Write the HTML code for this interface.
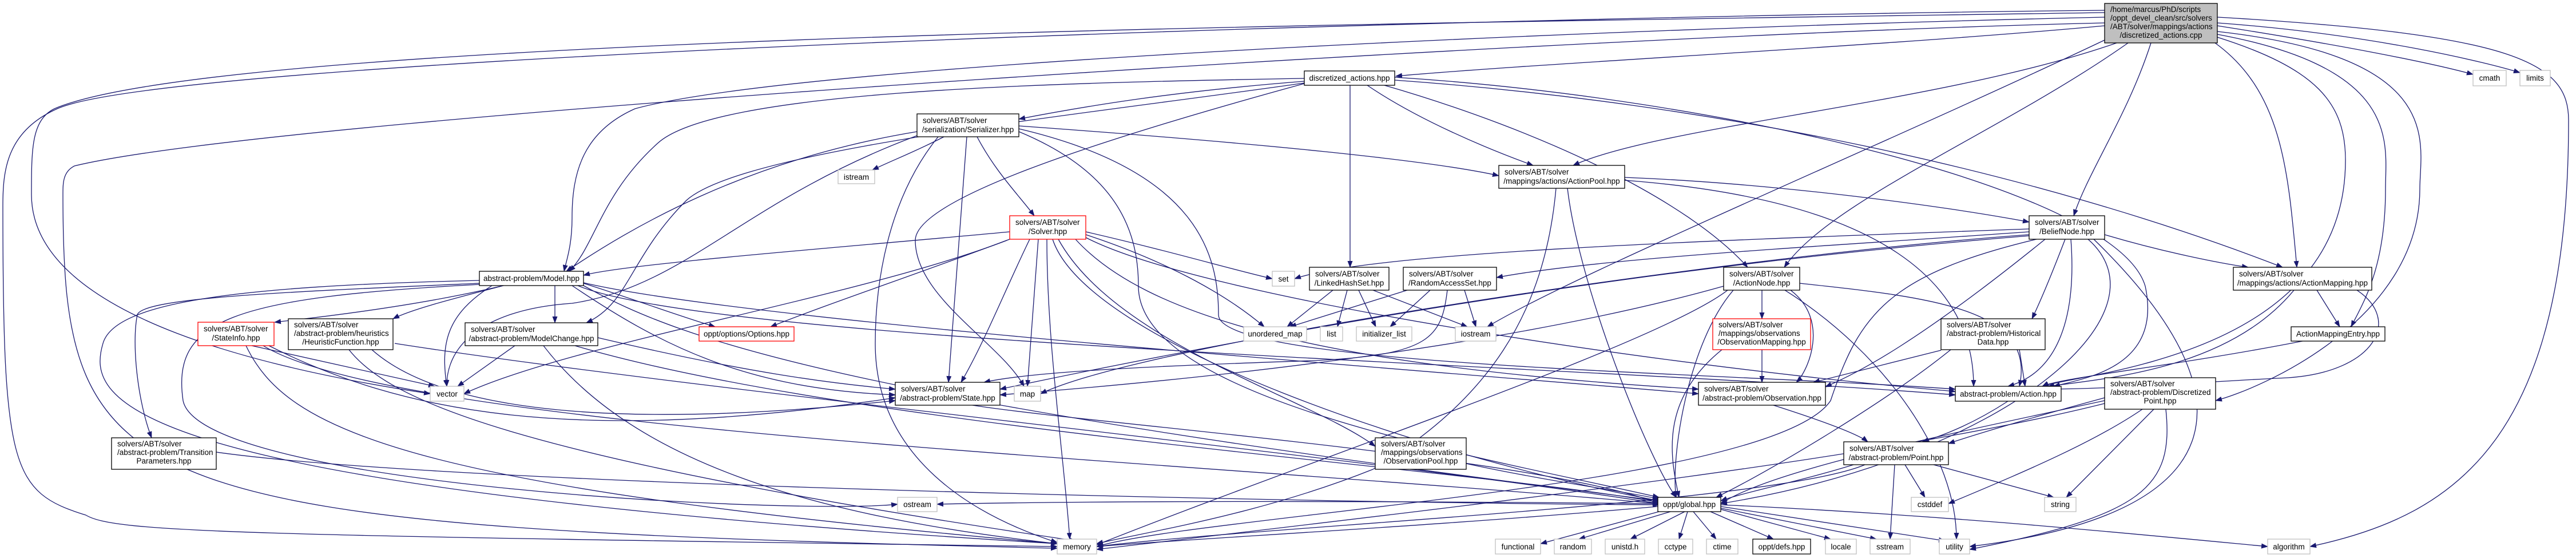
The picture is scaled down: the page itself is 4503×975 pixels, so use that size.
<!DOCTYPE html>
<html><head><meta charset="utf-8"><style>
html,body{margin:0;padding:0;background:#fff;}
svg{display:block;}
text{font-family:"Liberation Sans",sans-serif;font-size:13.5px;fill:#000;}
.e{fill:none;stroke:#191970;stroke-width:1.3;marker-end:url(#ah);}
.n{fill:#fff;stroke:#000;stroke-width:1.3;}
.g{fill:#fff;stroke:#bfbfbf;stroke-width:1.3;}
.r{fill:#fff;stroke:#ff0000;stroke-width:1.3;}
</style></head><body>
<svg width="4503" height="975" viewBox="0 0 4503 975" xmlns="http://www.w3.org/2000/svg">
<defs><marker id="ah" markerUnits="userSpaceOnUse" markerWidth="12" markerHeight="9" refX="11" refY="4.5" orient="auto"><path d="M0,0 L12,4.5 L0,9 z" fill="#191970"/></marker></defs>
<g>
<path class="e" d="M3679,45 C3300,80 2700,110 2440,133"/>
<path class="e" d="M3679,30 C2800,50 1400,110 1110,190 C1020,230 1000,300 1000,380 C1000,430 990,455 986,474"/>
<path class="e" d="M3679,22 C2500,40 400,60 95,190 C55,210 55,260 55,340 C55,560 500,650 752,688"/>
<path class="e" d="M3679,18 C2500,30 300,100 100,190 C10,230 5,300 5,360 C5,820 20,860 150,900 C200,930 400,935 1848,955"/>
<path class="e" d="M3679,40 C2800,60 500,200 130,290 C110,300 110,320 110,340 C110,870 200,920 1848,958"/>
<path class="e" d="M3700,75 C3400,180 2900,220 2750,289"/>
<path class="e" d="M3760,75 C3720,200 3650,300 3625,377"/>
<path class="e" d="M3720,75 C3500,230 3200,350 3119,467"/>
<path class="e" d="M3679,70 C3300,250 2750,480 2600,571"/>
<path class="e" d="M3872,75 C3990,160 4000,300 4015,467"/>
<path class="e" d="M3876,60 C4200,120 4170,250 4170,330 C4170,470 4130,530 4110,571"/>
<path class="e" d="M3876,55 C4280,100 4230,250 4230,330 C4230,560 3950,680 3873,700"/>
<path class="e" d="M3876,45 C4100,80 4250,110 4323,130"/>
<path class="e" d="M3876,40 C4150,60 4350,110 4405,127"/>
<path class="e" d="M3876,30 C4400,60 4490,110 4490,210 C4490,760 4300,900 4038,955"/>
<path class="e" d="M3876,65 C4050,120 4100,180 4100,280 C4100,620 3650,650 3570,675"/>
<path class="e" d="M2280,142 C2050,160 1900,185 1781,208"/>
<path class="e" d="M2280,137 C1800,145 1250,160 1150,250 C1050,340 1040,430 995,474"/>
<path class="e" d="M2360,149 L2360,467"/>
<path class="e" d="M2390,149 C2480,210 2600,260 2680,289"/>
<path class="e" d="M2420,149 C2700,230 2950,350 3055,467"/>
<path class="e" d="M2438,140 C3000,180 3560,300 3990,467"/>
<path class="e" d="M2280,145 C1900,200 1300,260 1200,350 C1100,450 1100,530 1025,564"/>
<path class="e" d="M2438,135 C3000,170 3700,330 3750,500 C3780,640 3650,660 3590,675"/>
<path class="e" d="M2280,146 C1900,250 1600,350 1600,420 C1600,520 1750,600 1790,675"/>
<path class="e" d="M1650,239 C1600,265 1560,280 1525,297"/>
<path class="e" d="M1708,239 C1740,300 1780,340 1808,377"/>
<path class="e" d="M1690,239 L1658,668"/>
<path class="e" d="M1781,220 C2200,250 2500,280 2620,307"/>
<path class="e" d="M1640,239 C1550,350 1530,500 1530,600 C1530,800 1700,900 1848,948"/>
<path class="e" d="M1781,230 C1950,300 1990,400 1990,500 C1990,700 2600,800 2900,869"/>
<path class="e" d="M1781,225 C2100,300 2130,450 2130,550 C2130,640 3000,650 3418,680"/>
<path class="e" d="M1603,230 C1300,280 1100,400 990,474"/>
<path class="e" d="M1603,237 C1300,350 1200,500 1000,530 C850,540 780,600 781,675"/>
<path class="e" d="M1765,405 C1500,430 1100,460 1020,481"/>
<path class="e" d="M1765,418 C1600,480 1450,530 1347,571"/>
<path class="e" d="M1898,405 C2050,440 2150,470 2224,487"/>
<path class="e" d="M1898,410 C2050,460 2150,520 2210,571"/>
<path class="e" d="M1800,418 C1760,500 1720,600 1680,668"/>
<path class="e" d="M1815,418 L1796,675"/>
<path class="e" d="M1830,418 C1830,600 1860,800 1870,942"/>
<path class="e" d="M1840,418 C1900,600 2500,800 2900,875"/>
<path class="e" d="M1850,418 C1950,600 2300,700 2404,780"/>
<path class="e" d="M1880,418 C2000,550 2300,640 2969,680"/>
<path class="e" d="M1898,415 C2100,520 2900,640 3418,684"/>
<path class="e" d="M1760,420 C1500,520 1000,600 811,688"/>
<path class="e" d="M3679,410 C3780,440 3880,460 3930,467"/>
<path class="e" d="M3547,400 C3000,420 2400,440 2263,487"/>
<path class="e" d="M3547,405 C3200,430 2800,450 2616,485"/>
<path class="e" d="M3610,418 C3590,470 3570,520 3552,557"/>
<path class="e" d="M3620,418 C3630,550 3600,650 3510,675"/>
<path class="e" d="M3575,418 C3350,600 3250,650 3191,676"/>
<path class="e" d="M3650,418 C3800,550 3500,800 3008,880"/>
<path class="e" d="M3660,418 C3950,700 3900,900 3443,955"/>
<path class="e" d="M3547,410 C3000,450 2000,600 1819,688"/>
<path class="e" d="M3547,412 C3200,440 2600,500 1748,680"/>
<path class="e" d="M3560,418 C3300,480 3250,550 3200,700 C3100,850 2100,900 1917,955"/>
<path class="e" d="M2740,329 C2760,500 2880,800 2930,869"/>
<path class="e" d="M2720,329 C2700,550 2600,700 2400,820 C2200,900 2000,930 1917,950"/>
<path class="e" d="M2840,315 C3300,350 3450,500 3450,675"/>
<path class="e" d="M2840,310 C3100,320 3400,360 3547,388"/>
<path class="e" d="M2330,507 L2250,571"/>
<path class="e" d="M2355,507 L2338,571"/>
<path class="e" d="M2375,507 L2405,571"/>
<path class="e" d="M2400,507 L2565,571"/>
<path class="e" d="M2460,507 L2255,571"/>
<path class="e" d="M2500,507 L2430,571"/>
<path class="e" d="M2560,507 L2580,571"/>
<path class="e" d="M2530,507 C2520,590 2500,620 2300,630 C2000,640 1800,650 1720,668"/>
<path class="e" d="M3080,507 L3080,557"/>
<path class="e" d="M3146,495 C3380,520 3560,540 3530,675"/>
<path class="e" d="M3130,507 C3200,560 3160,650 3140,668"/>
<path class="e" d="M3120,507 C3300,620 3420,800 3420,942"/>
<path class="e" d="M3030,507 C2950,600 2920,800 2930,869"/>
<path class="e" d="M3013,500 C2800,560 2400,640 1748,690"/>
<path class="e" d="M3020,507 C2900,600 2300,800 1917,952"/>
<path class="e" d="M3080,611 L3080,668"/>
<path class="e" d="M3010,611 C2900,700 2920,800 2935,869"/>
<path class="e" d="M3530,611 L3540,675"/>
<path class="e" d="M3393,612 C3280,640 3200,660 3170,668"/>
<path class="e" d="M3410,611 C3300,700 3100,820 3000,869"/>
<path class="e" d="M4050,507 L4090,571"/>
<path class="e" d="M4010,507 C3900,640 3700,660 3580,675"/>
<path class="e" d="M4120,507 C4200,560 4150,650 4000,660 C3800,670 3700,680 3560,680"/>
<path class="e" d="M4025,596 C3800,640 3600,660 3570,675"/>
<path class="e" d="M3510,701 C3450,740 3400,760 3360,772"/>
<path class="e" d="M3100,708 C3200,740 3250,760 3265,772"/>
<path class="e" d="M3679,695 C3550,730 3450,760 3406,775"/>
<path class="e" d="M3745,715 C3650,780 3500,840 3406,880"/>
<path class="e" d="M3765,715 L3612,869"/>
<path class="e" d="M3786,715 C3800,850 3750,900 3443,960"/>
<path class="e" d="M3679,700 C3400,760 3100,820 3008,880"/>
<path class="e" d="M3679,705 C3300,800 2600,880 1917,960"/>
<path class="e" d="M3240,812 C3150,840 3050,860 3008,875"/>
<path class="e" d="M3330,812 L3365,869"/>
<path class="e" d="M3380,812 L3590,869"/>
<path class="e" d="M3312,812 L3304,942"/>
<path class="e" d="M3260,812 C3100,880 2200,920 1917,955"/>
<path class="e" d="M1700,708 C1900,740 2700,800 2900,880"/>
<path class="e" d="M2563,810 C2700,840 2850,860 2900,872"/>
<path class="e" d="M970,499 L970,564"/>
<path class="e" d="M880,499 C750,530 600,550 480,563"/>
<path class="e" d="M880,499 C800,520 720,540 687,557"/>
<path class="e" d="M1020,495 C1100,520 1180,550 1250,571"/>
<path class="e" d="M860,499 C780,550 770,600 781,675"/>
<path class="e" d="M838,495 C500,510 250,520 240,550 C230,600 240,700 265,765"/>
<path class="e" d="M838,490 C400,500 200,530 180,600 C150,700 200,850 1848,950"/>
<path class="e" d="M1000,499 C1150,600 1300,680 1565,690"/>
<path class="e" d="M1020,499 C1200,600 1500,700 2900,875"/>
<path class="e" d="M1020,494 C1300,560 2400,640 2969,688"/>
<path class="e" d="M1010,499 C1250,600 2800,640 3418,690"/>
<path class="e" d="M838,497 C400,520 300,560 320,700 C350,850 1400,900 1569,881"/>
<path class="e" d="M440,604 L760,675"/>
<path class="e" d="M470,604 C700,720 1000,780 1565,695"/>
<path class="e" d="M430,604 C500,750 700,850 1848,950"/>
<path class="e" d="M460,604 C700,750 2000,800 2900,880"/>
<path class="e" d="M610,611 C680,700 900,800 1880,945"/>
<path class="e" d="M690,600 C1200,680 2400,800 2900,880"/>
<path class="e" d="M650,611 C750,700 1000,760 1565,700"/>
<path class="e" d="M900,604 L800,675"/>
<path class="e" d="M950,604 C1100,800 1400,900 1848,950"/>
<path class="e" d="M1005,604 C1500,750 2600,820 2900,878"/>
<path class="e" d="M1045,590 C1300,650 1450,670 1565,680"/>
<path class="e" d="M378,790 C800,850 2400,880 2900,882"/>
<path class="e" d="M2898,885 C2500,920 2100,940 1917,955"/>
<path class="e" d="M2900,894 L2693,950"/>
<path class="e" d="M2920,894 L2760,942"/>
<path class="e" d="M2945,894 L2850,942"/>
<path class="e" d="M2950,894 L2935,942"/>
<path class="e" d="M2960,894 L3000,942"/>
<path class="e" d="M2990,894 L3100,942"/>
<path class="e" d="M3008,890 L3200,942"/>
<path class="e" d="M3008,888 L3280,942"/>
<path class="e" d="M3008,885 L3400,945"/>
<path class="e" d="M3008,882 C3400,900 3700,930 3964,955"/>
<path class="e" d="M2898,880 C2400,875 1900,875 1638,881"/>
</g>
<g>
<rect x="3679" y="6" width="197" height="69" fill="#bfbfbf" stroke="#000" stroke-width="1.3"/>
<text x="3689" y="21">/home/marcus/PhD/scripts</text>
<text x="3689" y="36">/oppt_devel_clean/src/solvers</text>
<text x="3689" y="51">/ABT/solver/mappings/actions</text>
<text x="3777.5" y="66" text-anchor="middle">/discretized_actions.cpp</text>

<rect class="n" x="2280" y="124" width="158" height="25"/><text x="2359" y="141" text-anchor="middle">discretized_actions.hpp</text>
<rect class="g" x="4323" y="123" width="58" height="27"/><text x="4352" y="141" text-anchor="middle">cmath</text>
<rect class="g" x="4405" y="123" width="53" height="27"/><text x="4431.5" y="141" text-anchor="middle">limits</text>

<rect class="n" x="1603" y="199" width="178" height="40"/><text x="1613" y="215">solvers/ABT/solver</text><text x="1692" y="231" text-anchor="middle">/serialization/Serializer.hpp</text>
<rect class="n" x="2620" y="289" width="220" height="40"/><text x="2630" y="305">solvers/ABT/solver</text><text x="2730" y="321" text-anchor="middle">/mappings/actions/ActionPool.hpp</text>
<rect class="g" x="1465" y="297" width="64" height="24"/><text x="1497" y="314" text-anchor="middle">istream</text>
<rect class="r" x="1765" y="377" width="133" height="41"/><text x="1775" y="393">solvers/ABT/solver</text><text x="1831.5" y="409" text-anchor="middle">/Solver.hpp</text>
<rect class="n" x="3547" y="377" width="132" height="41"/><text x="3557" y="393">solvers/ABT/solver</text><text x="3613" y="409" text-anchor="middle">/BeliefNode.hpp</text>

<rect class="n" x="838" y="474" width="182" height="25"/><text x="929" y="491" text-anchor="middle">abstract-problem/Model.hpp</text>
<rect class="g" x="2224" y="474" width="39" height="26"/><text x="2243.5" y="492" text-anchor="middle">set</text>
<rect class="n" x="2289" y="467" width="139" height="40"/><text x="2299" y="483">solvers/ABT/solver</text><text x="2358.5" y="499" text-anchor="middle">/LinkedHashSet.hpp</text>
<rect class="n" x="2453" y="467" width="163" height="40"/><text x="2463" y="483">solvers/ABT/solver</text><text x="2534.5" y="499" text-anchor="middle">/RandomAccessSet.hpp</text>
<rect class="n" x="3013" y="467" width="133" height="40"/><text x="3023" y="483">solvers/ABT/solver</text><text x="3079.5" y="499" text-anchor="middle">/ActionNode.hpp</text>
<rect class="n" x="3904" y="467" width="242" height="40"/><text x="3914" y="483">solvers/ABT/solver</text><text x="4025" y="499" text-anchor="middle">/mappings/actions/ActionMapping.hpp</text>

<rect class="r" x="346" y="563" width="133" height="41"/><text x="356" y="579">solvers/ABT/solver</text><text x="412.5" y="595" text-anchor="middle">/StateInfo.hpp</text>
<rect class="n" x="504" y="557" width="183" height="54"/><text x="514" y="572">solvers/ABT/solver</text><text x="514" y="587">/abstract-problem/heuristics</text><text x="595.5" y="602" text-anchor="middle">/HeuristicFunction.hpp</text>
<rect class="n" x="813" y="564" width="232" height="40"/><text x="823" y="580">solvers/ABT/solver</text><text x="929" y="596" text-anchor="middle">/abstract-problem/ModelChange.hpp</text>
<rect class="r" x="1222" y="571" width="166" height="25"/><text x="1305" y="588" text-anchor="middle">oppt/options/Options.hpp</text>
<rect class="g" x="2174" y="571" width="110" height="25"/><text x="2229" y="588" text-anchor="middle">unordered_map</text>
<rect class="g" x="2308" y="571" width="39" height="25"/><text x="2327.5" y="588" text-anchor="middle">list</text>
<rect class="g" x="2371" y="571" width="97" height="25"/><text x="2419.5" y="588" text-anchor="middle">initializer_list</text>
<rect class="g" x="2544" y="571" width="71" height="25"/><text x="2579.5" y="588" text-anchor="middle">iostream</text>
<rect class="r" x="2994" y="557" width="171" height="54"/><text x="3004" y="572">solvers/ABT/solver</text><text x="3004" y="587">/mappings/observations</text><text x="3079.5" y="602" text-anchor="middle">/ObservationMapping.hpp</text>
<rect class="n" x="3393" y="557" width="182" height="54"/><text x="3403" y="572">solvers/ABT/solver</text><text x="3403" y="587">/abstract-problem/Historical</text><text x="3484" y="602" text-anchor="middle">Data.hpp</text>
<rect class="n" x="4005" y="571" width="164" height="25"/><text x="4087" y="588" text-anchor="middle">ActionMappingEntry.hpp</text>

<rect class="g" x="752" y="675" width="59" height="26"/><text x="781.5" y="693" text-anchor="middle">vector</text>
<rect class="n" x="1565" y="668" width="183" height="40"/><text x="1575" y="684">solvers/ABT/solver</text><text x="1656.5" y="700" text-anchor="middle">/abstract-problem/State.hpp</text>
<rect class="g" x="1773" y="675" width="46" height="26"/><text x="1796" y="693" text-anchor="middle">map</text>
<rect class="n" x="2969" y="668" width="222" height="40"/><text x="2979" y="684">solvers/ABT/solver</text><text x="3080" y="700" text-anchor="middle">/abstract-problem/Observation.hpp</text>
<rect class="n" x="3418" y="675" width="185" height="26"/><text x="3510.5" y="693" text-anchor="middle">abstract-problem/Action.hpp</text>
<rect class="n" x="3679" y="660" width="194" height="55"/><text x="3689" y="675">solvers/ABT/solver</text><text x="3689" y="690">/abstract-problem/Discretized</text><text x="3776" y="705" text-anchor="middle">Point.hpp</text>

<rect class="n" x="195" y="765" width="183" height="55"/><text x="205" y="780">solvers/ABT/solver</text><text x="205" y="795">/abstract-problem/Transition</text><text x="286.5" y="810" text-anchor="middle">Parameters.hpp</text>
<rect class="n" x="2404" y="765" width="159" height="55"/><text x="2414" y="780">solvers/ABT/solver</text><text x="2414" y="795">/mappings/observations</text><text x="2483.5" y="810" text-anchor="middle">/ObservationPool.hpp</text>
<rect class="n" x="3223" y="772" width="183" height="40"/><text x="3233" y="788">solvers/ABT/solver</text><text x="3314.5" y="804" text-anchor="middle">/abstract-problem/Point.hpp</text>

<rect class="g" x="1569" y="869" width="69" height="25"/><text x="1603.5" y="886" text-anchor="middle">ostream</text>
<rect class="n" x="2898" y="869" width="110" height="25"/><text x="2953" y="886" text-anchor="middle">oppt/global.hpp</text>
<rect class="g" x="3341" y="869" width="65" height="25"/><text x="3373.5" y="886" text-anchor="middle">cstddef</text>
<rect class="g" x="3574" y="869" width="55" height="25"/><text x="3601.5" y="886" text-anchor="middle">string</text>

<rect class="g" x="1848" y="942" width="69" height="26"/><text x="1882.5" y="960" text-anchor="middle">memory</text>
<rect class="g" x="2614" y="942" width="79" height="26"/><text x="2653.5" y="960" text-anchor="middle">functional</text>
<rect class="g" x="2717" y="942" width="65" height="26"/><text x="2749.5" y="960" text-anchor="middle">random</text>
<rect class="g" x="2806" y="942" width="69" height="26"/><text x="2840.5" y="960" text-anchor="middle">unistd.h</text>
<rect class="g" x="2899" y="942" width="60" height="26"/><text x="2929" y="960" text-anchor="middle">cctype</text>
<rect class="g" x="2983" y="942" width="55" height="26"/><text x="3010.5" y="960" text-anchor="middle">ctime</text>
<rect class="n" x="3064" y="942" width="101" height="26"/><text x="3114.5" y="960" text-anchor="middle">oppt/defs.hpp</text>
<rect class="g" x="3191" y="942" width="54" height="26"/><text x="3218" y="960" text-anchor="middle">locale</text>
<rect class="g" x="3269" y="942" width="70" height="26"/><text x="3304" y="960" text-anchor="middle">sstream</text>
<rect class="g" x="3390" y="942" width="53" height="26"/><text x="3416.5" y="960" text-anchor="middle">utility</text>
<rect class="g" x="3964" y="942" width="74" height="26"/><text x="4001" y="960" text-anchor="middle">algorithm</text>
</g>
</svg>
</body></html>
